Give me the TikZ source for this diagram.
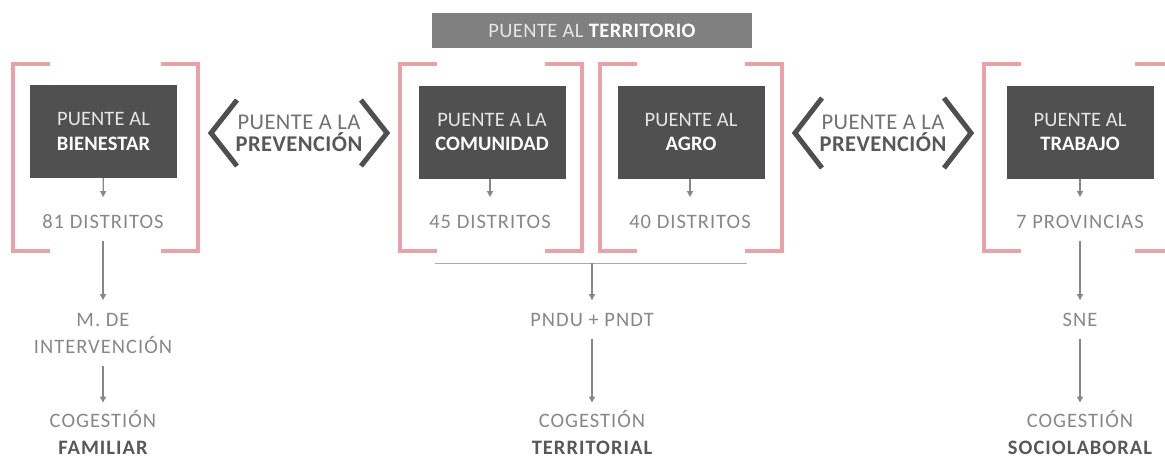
\documentclass[tikz,border=0pt]{standalone}
\usepackage{fontspec}
\setmainfont{Carlito}[LetterSpace=5]
\usetikzlibrary{arrows.meta}

\definecolor{rosa}{HTML}{E8A2A8}
\definecolor{oscuro}{HTML}{505050}
\definecolor{banda}{HTML}{808080}
\definecolor{chev}{HTML}{4F4F4F}
\definecolor{grisT}{HTML}{878787}
\definecolor{grisB}{HTML}{585858}
\definecolor{claro}{HTML}{E6E6E6}

% corchetes rosados: x izquierda, x derecha
\newcommand{\corchete}[2]{%
  \draw[cor] (#1+37,64) -- (#1,64) -- (#1,251) -- (#1+37,251);
  \draw[cor] (#2-37,64) -- (#2,64) -- (#2,251) -- (#2-37,251);}

\begin{document}
\begin{tikzpicture}[x=1pt,y=-1pt,
  caja/.style={fill=oscuro,minimum width=147pt,minimum height=93pt,inner sep=0pt,align=center,text=claro,font=\fontsize{20.5}{24.5}\selectfont\addfontfeature{LetterSpace=0.5}},
  txt/.style={inner sep=0pt,text=grisT,align=center,text height=13.5pt,text depth=0pt,font=\fontsize{20.5}{27}\selectfont},
  txtdos/.style={txt,text height=40.5pt},
  prev/.style={inner sep=0pt,align=center,text=grisB!85,font=\fontsize{22.5}{22}\selectfont\addfontfeature{LetterSpace=2}},
  flecha/.style={draw=grisT,line width=1.2pt,-{Triangle[length=6pt,width=6pt]},shorten <=12pt,shorten >=13pt},
  flechacaja/.style={flecha,shorten <=0pt,shorten >=18pt},
  cor/.style={draw=rosa,line width=4pt},
  chevron/.style={draw=chev,line width=5pt}]
\useasboundingbox (0,0) rectangle (1165,459);

% banda superior
\node[fill=banda,minimum width=320pt,minimum height=35pt,inner sep=0pt,text=claro,font=\fontsize{20.5}{24}\selectfont\addfontfeature{LetterSpace=2}] (ter) at (592,30.5) {PUENTE AL \textbf{\color{white}TERRITORIO}};

% corchetes
\corchete{13}{198}
\corchete{400}{582}
\corchete{600}{782}
\corchete{984}{1172}

% cajas
\node[caja] (bie) at (103.5,131.5) {PUENTE AL\\\textbf{\color{white}BIENESTAR}};
\node[caja] (com) at (492,132) {PUENTE A LA\\\textbf{\color{white}COMUNIDAD}};
\node[caja] (agr) at (691,132) {PUENTE AL\\\textbf{\color{white}AGRO}};
\node[caja] (tra) at (1080,132) {PUENTE AL\\\textbf{\color{white}TRABAJO}};

% prevencion
\draw[chevron] (237,100) -- (211,133) -- (237,166);
\draw[chevron] (361,100) -- (387,133) -- (361,166);
\node[prev] (pv1) at (299,133.5) {PUENTE A LA\\\textbf{\color{grisB}PREVENCIÓN}};
\draw[chevron] (822,98) -- (795,133) -- (822,168);
\draw[chevron] (944,98) -- (971,133) -- (944,168);
\node[prev] (pv2) at (883,133.5) {PUENTE A LA\\\textbf{\color{grisB}PREVENCIÓN}};

% alcance
\node[txt] (d1) at (103,222) {81 DISTRITOS};
\node[txt] (d2) at (490,222) {45 DISTRITOS};
\node[txt] (d3) at (690,222) {40 DISTRITOS};
\node[txt] (d4) at (1080,222) {7 PROVINCIAS};

% instrumentos
\node[txtdos] (m1) at (103,333.5) {M. DE\\INTERVENCIÓN};
\node[txt] (m2) at (592,320) {PNDU + PNDT};
\node[txt] (m4) at (1080,320) {SNE};

% cogestion
\node[txtdos] (c1) at (103,434) {COGESTIÓN\\\textbf{\color{grisB}FAMILIAR}};
\node[txtdos] (c2) at (592,434) {COGESTIÓN\\\textbf{\color{grisB}TERRITORIAL}};
\node[txtdos] (c4) at (1080,434) {COGESTIÓN\\\textbf{\color{grisB}SOCIOLABORAL}};

% conectores
\draw[flechacaja] (bie) -- (d1);
\draw[flechacaja] (com.south -| d2) -- (d2);
\draw[flechacaja] (agr.south -| d3) -- (d3);
\draw[flechacaja] (tra) -- (d4);
\draw[flecha] (d1) -- (m1);
\draw[flecha,shorten >=11pt] (m1) -- (c1);
\draw[draw=grisT!70,line width=1pt] (435,263) -- (747,263);
\coordinate (barra) at (592,263);
\draw[flecha,shorten <=0pt] (barra) -- (m2);
\draw[flecha,shorten >=11pt] (m2) -- (c2);
\draw[flecha] (d4) -- (m4);
\draw[flecha,shorten >=11pt] (m4) -- (c4);
\end{tikzpicture}
\end{document}
